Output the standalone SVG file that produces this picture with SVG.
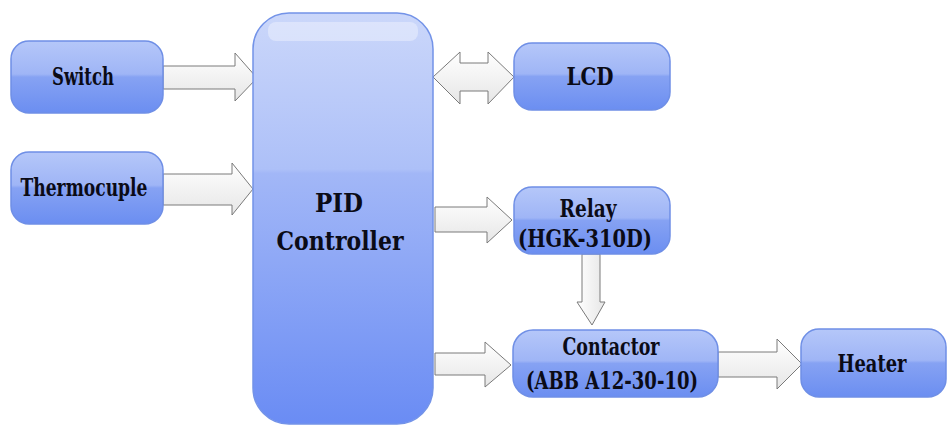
<svg xmlns="http://www.w3.org/2000/svg" width="948" height="426" viewBox="0 0 948 426">
  <defs>
    <!-- glossy blue fill for the small blocks -->
    <linearGradient id="boxFill" x1="0" y1="0" x2="0" y2="1">
      <stop offset="0" stop-color="#b5c7f9"/>
      <stop offset="0.46" stop-color="#9fb5f6"/>
      <stop offset="0.5" stop-color="#86a2f3"/>
      <stop offset="1" stop-color="#6b8ef1"/>
    </linearGradient>
    <!-- taller controller block -->
    <linearGradient id="pidFill" x1="0" y1="0" x2="0" y2="1">
      <stop offset="0" stop-color="#cbd7fa"/>
      <stop offset="0.38" stop-color="#adc0f8"/>
      <stop offset="0.39" stop-color="#a2b7f7"/>
      <stop offset="1" stop-color="#6a8cf4"/>
    </linearGradient>
    <linearGradient id="arrowFill" x1="0" y1="0" x2="0" y2="1">
      <stop offset="0" stop-color="#ffffff"/>
      <stop offset="1" stop-color="#e6e6e6"/>
    </linearGradient>
    <linearGradient id="arrowFillV" x1="0" y1="0" x2="1" y2="0">
      <stop offset="0" stop-color="#ffffff"/>
      <stop offset="1" stop-color="#e6e6e6"/>
    </linearGradient>
  </defs>
  <style>
    .box { fill: url(#boxFill); stroke: #6f8fe6; stroke-width: 1.5; }
    .pid { fill: url(#pidFill); stroke: #7393e8; stroke-width: 1.5; }
    .shine { fill: #ffffff; opacity: 0.35; }
    .arrow { fill: url(#arrowFill); stroke: #7a7a7a; stroke-width: 1; }
    .arrowV { fill: url(#arrowFillV); stroke: #7a7a7a; stroke-width: 1; }
    .lbl { font-family: "DejaVu Serif", serif; font-weight: bold; font-size: 25px; fill: #0b0b16; text-anchor: middle; }
    .big { font-size: 26px; }
  </style>

  <rect width="948" height="426" fill="#ffffff"/>

  <!-- block arrows between the blocks -->
  <g id="connectors">
    <polygon class="arrow" points="163,66 235,66 235,53 257,78 235,101 235,89 163,89"/>
    <polygon class="arrow" points="163,174 232,174 232,163 253,189 232,215 232,205 163,205"/>
    <polygon class="arrow" points="433,77 460,52 460,63 488,63 488,52 514,77 488,104 488,91 460,91 460,104"/>
    <polygon class="arrow" points="435,207 487,207 487,197 512,220 487,243 487,232 435,232"/>
    <polygon class="arrowV" points="582,254 600,254 600,302 605,302 592,325 577,302 582,302"/>
    <polygon class="arrow" points="435,353 485,353 485,342 511,365 485,387 485,375 435,375"/>
    <polygon class="arrow" points="718,352 777,352 777,339 802,364 777,389 777,377 718,377"/>
  </g>

  <g id="switch">
    <rect class="box" x="11" y="41" width="152" height="72" rx="18"/>
    <text class="lbl" x="83" y="85" textLength="62" lengthAdjust="spacingAndGlyphs">Switch</text>
  </g>

  <g id="thermocuple">
    <rect class="box" x="11" y="152" width="152" height="72" rx="18"/>
    <text class="lbl" x="84" y="196" textLength="127" lengthAdjust="spacingAndGlyphs">Thermocuple</text>
  </g>

  <g id="pid">
    <rect class="pid" x="253" y="13" width="180" height="411" rx="36"/>
    <rect class="shine" x="268" y="22" width="150" height="19" rx="8"/>
    <text class="lbl big" x="339" y="212" textLength="48" lengthAdjust="spacingAndGlyphs">PID</text>
    <text class="lbl big" x="340" y="250" textLength="127" lengthAdjust="spacingAndGlyphs">Controller</text>
  </g>

  <g id="lcd">
    <rect class="box" x="514" y="43" width="156" height="67" rx="18"/>
    <text class="lbl" x="590" y="85" textLength="47" lengthAdjust="spacingAndGlyphs">LCD</text>
  </g>

  <g id="relay">
    <rect class="box" x="514" y="187" width="156" height="67" rx="18"/>
    <text class="lbl" x="588" y="217" textLength="57" lengthAdjust="spacingAndGlyphs">Relay</text>
    <text class="lbl" x="585" y="247" textLength="134" lengthAdjust="spacingAndGlyphs">(HGK-310D)</text>
  </g>

  <g id="contactor">
    <rect class="box" x="513" y="330" width="205" height="67" rx="20"/>
    <text class="lbl" x="611" y="355" textLength="97" lengthAdjust="spacingAndGlyphs">Contactor</text>
    <text class="lbl" x="612" y="389" textLength="172" lengthAdjust="spacingAndGlyphs">(ABB A12-30-10)</text>
  </g>

  <g id="heater">
    <rect class="box" x="801" y="329" width="145" height="68" rx="18"/>
    <text class="lbl" x="872" y="372" textLength="69" lengthAdjust="spacingAndGlyphs">Heater</text>
  </g>
</svg>
